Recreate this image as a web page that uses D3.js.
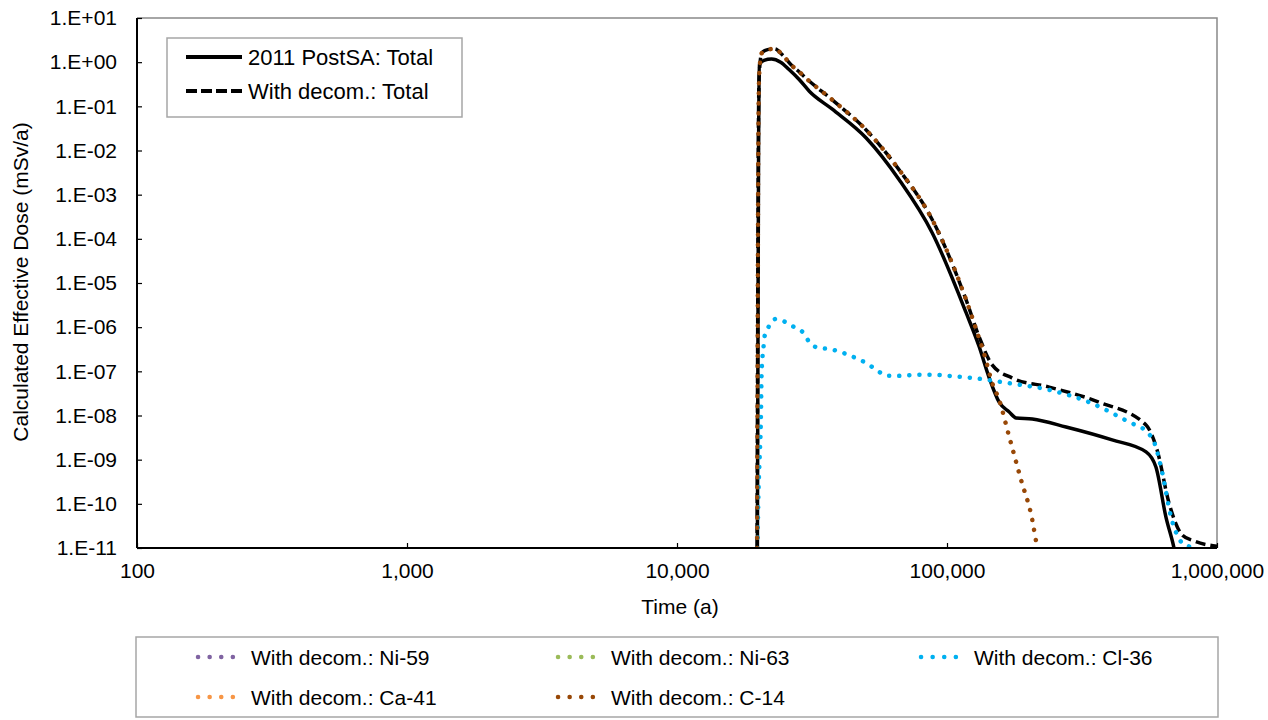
<!DOCTYPE html>
<html>
<head>
<meta charset="utf-8">
<script src="https://cdn.jsdelivr.net/npm/d3@7"></script>
<style>
  body { margin: 0; background: #fff; }
  svg { display: block; font-family: "Liberation Sans", Arial, sans-serif; }
</style>
</head>
<body>
<svg id="chart" width="1268" height="720"></svg>
<script>
// 2011 PostSA: Total
const postsaYears = [19850, 19950, 20050, 20200, 21000, 22400, 24200, 26000, 28400, 30900, 37600, 50200, 66600, 88200, 117800, 131600, 143000, 156000, 170000, 180400, 207000, 276000, 409000, 546000, 594000, 647000, 693000, 720000];
const postsaDose  = [1e-11, 1e-6, 1e-2, 0.9, 1.1, 1.18, 1.0, 0.68, 0.40, 0.22, 0.086, 0.0192, 2.15e-3, 1.36e-4, 2.1e-6, 3.6e-7, 7.4e-8, 2.0e-8, 1.2e-8, 8.8e-9, 8.3e-9, 5.5e-9, 2.8e-9, 1.5e-9, 6.8e-10, 5e-11, 1e-11, 3e-12];

// With decom.: Total
const decomYears = [19800, 19900, 20000, 20150, 20600, 21500, 23000, 24600, 26500, 28400, 30100, 37600, 50200, 66600, 88200, 117800, 131600, 147000, 174000, 239000, 366000, 546000, 600000, 664000, 742000, 822000, 1000000];
const decomDose  = [1e-11, 1e-6, 1e-2, 0.5, 1.6, 1.9, 2.0, 1.45, 0.86, 0.60, 0.43, 0.14, 0.0291, 3.6e-3, 2.7e-4, 4.1e-6, 6e-7, 1.4e-7, 7.1e-8, 4.4e-8, 2.0e-8, 6.1e-9, 1.66e-9, 1.05e-10, 2e-11, 1.44e-11, 1.1e-11];

// nuclides (Ni-59, Ni-63, Ca-41 stay below 1E-11 over the whole range)
const ni59Years = [], ni59Dose = [];
const ni63Years = [], ni63Dose = [];
const ca41Years = [], ca41Dose = [];

const cl36Years = [19860, 20050, 20250, 20450, 20550, 20720, 20900, 21080, 21810, 23200, 25200, 27200, 29400, 30900, 33400, 36700, 40300, 43500, 47800, 51500, 55700, 60100, 65800, 76000, 88200, 104000, 124000, 166000, 239000, 336000, 472000, 551000, 585000, 626000, 676000, 742000, 801000, 840000];
const cl36Dose  = [1e-11, 2e-10, 1.2e-9, 8e-9, 6.4e-8, 2e-7, 3.4e-7, 6e-7, 1.0e-6, 1.53e-6, 1.31e-6, 1.0e-6, 7.4e-7, 4.6e-7, 3.4e-7, 3.2e-7, 2.75e-7, 2.3e-7, 1.8e-7, 1.4e-7, 1.0e-7, 7.9e-8, 7.9e-8, 8.3e-8, 8.4e-8, 7.8e-8, 7.1e-8, 5.5e-8, 3.8e-8, 2.0e-8, 7.1e-9, 4.2e-9, 2.5e-9, 5.3e-10, 5e-11, 1.3e-11, 1e-11, 5e-12];

const c14Years = [19800, 19900, 20000, 20150, 20600, 21500, 23000, 24600, 26500, 28400, 30100, 37600, 50200, 66600, 88200, 117800, 131600, 137000, 147000, 156000, 170000, 188000, 207000, 214000, 222000];
const c14Dose  = [1e-11, 1e-6, 1e-2, 0.5, 1.6, 1.9, 2.0, 1.45, 0.86, 0.60, 0.43, 0.14, 0.0291, 3.6e-3, 2.7e-4, 4.1e-6, 5.5e-7, 2.6e-7, 5.5e-8, 2.25e-8, 3.3e-9, 3.5e-10, 4.3e-11, 1.37e-11, 5e-12];

const xTicks = [100, 1000, 10000, 100000, 1000000];
const yTicks = [1e1, 1e0, 1e-1, 1e-2, 1e-3, 1e-4, 1e-5, 1e-6, 1e-7, 1e-8, 1e-9, 1e-10, 1e-11];

const series = [
  {name: "2011 PostSA: Total", x: postsaYears, y: postsaDose, color: "#000", width: 3.5, dash: null},
  {name: "With decom.: Total", x: decomYears, y: decomDose, color: "#000", width: 3.5, dash: "10,5"},
  {name: "With decom.: Ni-59", x: ni59Years, y: ni59Dose, color: "#8064A2", width: 4.5, dash: "0.1,10"},
  {name: "With decom.: Ni-63", x: ni63Years, y: ni63Dose, color: "#9BBB59", width: 4.5, dash: "0.1,10"},
  {name: "With decom.: Cl-36", x: cl36Years, y: cl36Dose, color: "#00B0F0", width: 4.5, dash: "0.1,10"},
  {name: "With decom.: Ca-41", x: ca41Years, y: ca41Dose, color: "#F79646", width: 4.5, dash: "0.1,10"},
  {name: "With decom.: C-14", x: c14Years, y: c14Dose, color: "#984807", width: 4.5, dash: "0.1,10"}
];

const svg = d3.select("#chart");
const mLeft = 137, mRight = 1217, mTop = 18, mBottom = 548;

const x = d3.scaleLog().domain([100, 1e6]).range([mLeft, mRight]);
const y = d3.scaleLog().domain([1e-11, 1e1]).range([mBottom, mTop]);

const fmtX = d3.format(",");
const fmtY = d => {
  const e = Math.round(Math.log10(d));
  return "1.E" + (e < 0 ? "-" : "+") + String(Math.abs(e)).padStart(2, "0");
};

svg.append("defs").append("clipPath").attr("id", "plotclip")
  .append("rect").attr("x", mLeft).attr("y", mTop).attr("width", mRight - mLeft).attr("height", mBottom - mTop);

// plot frame: gray top/right
svg.append("path")
  .attr("d", `M${mLeft},${mTop}H${mRight}V${mBottom}`)
  .attr("fill", "none").attr("stroke", "#898989").attr("stroke-width", 1.5);

// series lines
const line = d3.line().curve(d3.curveMonotoneX);
const plot = svg.append("g").attr("clip-path", "url(#plotclip)");
series.forEach(s => {
  if (!s.x.length) return;
  const pts = s.x.map((v, i) => [x(v), y(s.y[i])]);
  plot.append("path")
    .attr("d", line(pts))
    .attr("fill", "none")
    .attr("stroke", s.color)
    .attr("stroke-width", s.width)
    .attr("stroke-linecap", s.dash && s.dash.startsWith("0.1") ? "round" : "butt")
    .attr("stroke-linejoin", "round")
    .attr("stroke-dasharray", s.dash);
});

// axes
const xAxis = d3.axisBottom(x).tickValues(xTicks).tickSize(-5).tickFormat(fmtX).tickPadding(15);
const gx = svg.append("g").attr("transform", `translate(0,${mBottom})`).call(xAxis);
const yAxis = d3.axisLeft(y).tickValues(yTicks).tickSize(-5).tickFormat(fmtY).tickPadding(20);
const gy = svg.append("g").attr("transform", `translate(${mLeft},0)`).call(yAxis);
[gx, gy].forEach(g => {
  g.select(".domain").attr("stroke", "#000").attr("stroke-width", 2);
  g.selectAll(".tick line").attr("stroke", "#000").attr("stroke-width", 1.2);
  g.selectAll(".tick text").attr("fill", "#000").attr("font-size", 21).attr("font-family", "Liberation Sans, Arial, sans-serif");
});
gx.select(".domain").attr("d", `M${mLeft},0H${mRight}`);
gy.select(".domain").attr("d", `M0,${mTop}V${mBottom}`);

// axis titles
svg.append("text")
  .attr("x", 680).attr("y", 614)
  .attr("text-anchor", "middle").attr("font-size", 21)
  .text("Time (a)");
svg.append("text")
  .attr("transform", "translate(28,282) rotate(-90)")
  .attr("text-anchor", "middle").attr("font-size", 21)
  .text("Calculated  Effective  Dose (mSv/a)");

// top legend (totals)
const lg1 = svg.append("g");
lg1.append("rect").attr("x", 167).attr("y", 38).attr("width", 295).attr("height", 79)
  .attr("fill", "#fff").attr("stroke", "#a6a6a6").attr("stroke-width", 1.5);
series.slice(0, 2).forEach((s, i) => {
  const cy = 57 + i * 34;
  lg1.append("line").attr("x1", 186).attr("x2", 242).attr("y1", cy).attr("y2", cy)
    .attr("stroke", s.color).attr("stroke-width", 4).attr("stroke-dasharray", s.dash ? "11,4" : null);
  lg1.append("text").attr("x", 248).attr("y", cy + 8).attr("font-size", 22).text(s.name);
});

// bottom legend (nuclides)
const lg2 = svg.append("g");
lg2.append("rect").attr("x", 136).attr("y", 637).attr("width", 1082).attr("height", 80)
  .attr("fill", "#fff").attr("stroke", "#a6a6a6").attr("stroke-width", 1.5);
const colX = [198, 558, 921];
series.slice(2).forEach((s, i) => {
  const cx = colX[i % 3], cy = 657 + Math.floor(i / 3) * 40;
  lg2.append("line").attr("x1", cx).attr("x2", cx + 46).attr("y1", cy).attr("y2", cy)
    .attr("stroke", s.color).attr("stroke-width", 4.5).attr("stroke-linecap", "round")
    .attr("stroke-dasharray", "0.1,11.5");
  lg2.append("text").attr("x", cx + 53).attr("y", cy + 8).attr("font-size", 21).text(s.name);
});
</script>
</body>
</html>
